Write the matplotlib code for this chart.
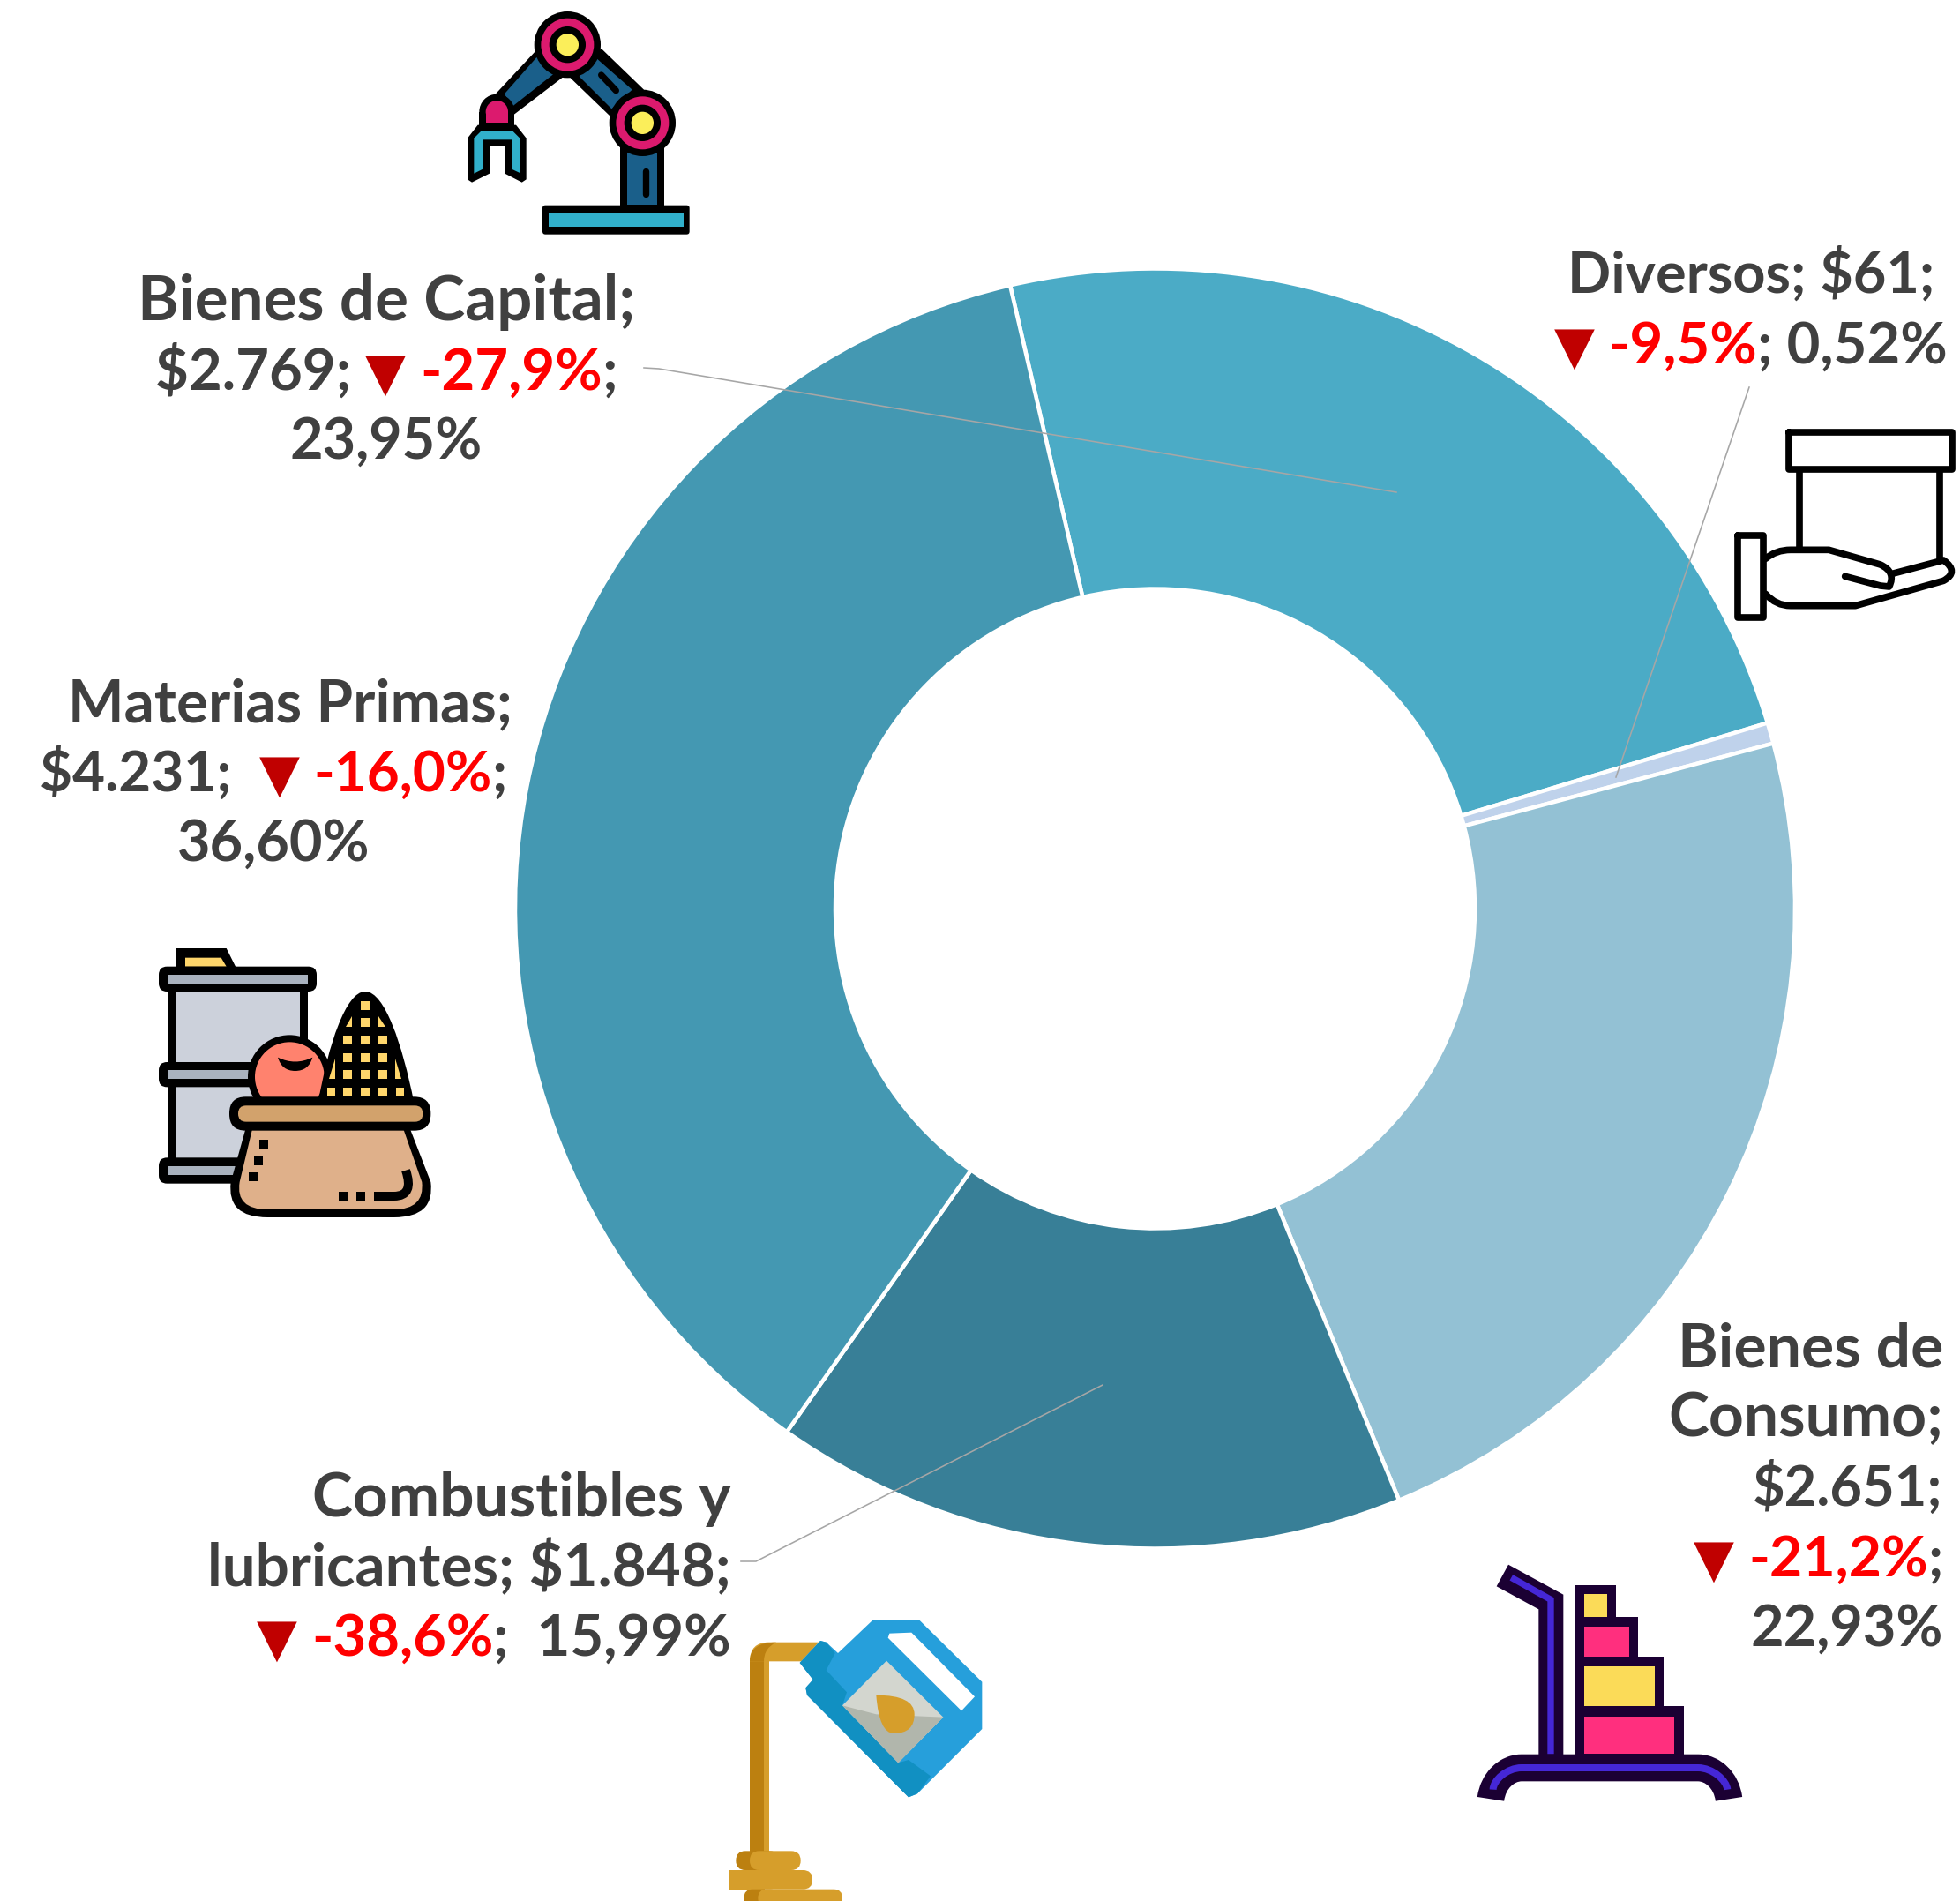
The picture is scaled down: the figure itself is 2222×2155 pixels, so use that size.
import matplotlib
matplotlib.use('Agg')  # run without UI window
import matplotlib.pyplot as plt
from matplotlib.patches import Circle, FancyBboxPatch, PathPatch, Polygon, Rectangle
from matplotlib.path import Path

W, H = 2222, 2155
PT = 0.72  # one pixel in points at dpi 100

# Data
categories = ['Bienes de Capital', 'Diversos', 'Bienes de Consumo', 'Combustibles y lubricantes', 'Materias Primas']
values = [2769, 61, 2651, 1848, 4231]
value_labels = ['$2.769', '$61', '$2.651', '$1.848', '$4.231']
changes = ['-27,9%', '-9,5%', '-21,2%', '-38,6%', '-16,0%']
shares = ['23,95%', '0,52%', '22,93%', '15,99%', '36,60%']
colors = ['#4BABC6', '#BFD2EB', '#93C1D4', '#387F97', '#4498B2']

GREY = '#404040'
RED = '#FF0000'
DARK_RED = '#C00000'

fig = plt.figure(figsize=(W / 100, H / 100), dpi=100, facecolor='white')

# Donut
pie_ax = fig.add_axes([0, 0, 1, 1])
pie_ax.set_xlim(0, W)
pie_ax.set_ylim(0, H)
pie_ax.axis('off')
pie_ax.pie(values, colors=colors, startangle=103.1, counterclock=False,
           center=(1309.5, H - 1030), radius=725.5, frame=True,
           wedgeprops=dict(width=363, edgecolor='white', linewidth=4.5 * PT))
pie_ax.set_xlim(0, W)
pie_ax.set_ylim(0, H)
pie_ax.axis('off')

# Overlay in image pixels, y going down
ax = fig.add_axes([0, 0, 1, 1])
ax.set_xlim(0, W)
ax.set_ylim(H, 0)
ax.axis('off')
ax.patch.set_alpha(0)

# Leader lines
for xs, ys in [([730, 747, 1583], [417, 418, 558]),
               ([1983, 1832], [439, 881]),
               ([840, 857, 1250], [1770, 1770, 1570])]:
    ax.plot(xs, ys, color='#A6A6A6', lw=1.6 * PT, zorder=3)

renderer = fig.canvas.get_renderer()
FONT = ['Lato', 'DejaVu Sans']
TRI_SIZE = 43


def run_width(s, size):
    probe = ax.text(0, 0, 'x' + s + 'x', fontsize=size, fontweight='bold', family=FONT)
    w1 = probe.get_window_extent(renderer).width
    probe.set_text('xx')
    w2 = probe.get_window_extent(renderer).width
    probe.remove()
    return w1 - w2


def text_line(x, y, runs, size, align='center'):
    # runs are (text, colour) pairs laid out one after the other
    sizes = [TRI_SIZE if r[0] == '▼' else size for r in runs]
    widths = [run_width(r[0], s) for r, s in zip(runs, sizes)]
    total = sum(widths)
    left = x - total / 2 if align == 'center' else x - total
    for (s, c), w, fs in zip(runs, widths, sizes):
        ax.text(left, y, s, color=c, fontsize=fs, fontweight='bold', family=FONT,
                ha='left', va='baseline', zorder=5)
        left += w


def change_runs(i, after):
    return [('▼', DARK_RED), (' ', GREY), (changes[i], RED), (after, GREY)]


# Bienes de Capital
text_line(438, 363, [(categories[0] + ';', GREY)], 51)
text_line(438, 442, [(value_labels[0] + '; ', GREY)] + change_runs(0, ';'), 47)
text_line(438, 520, [(shares[0], GREY)], 46.6)
# Diversos
text_line(1985, 332, [(categories[1] + '; ' + value_labels[1] + ';', GREY)], 46.6)
text_line(1985, 412, change_runs(1, '; ' + shares[1]), 47)
# Materias Primas
text_line(329, 818, [(categories[4] + ';', GREY)], 48.5)
text_line(310, 897, [(value_labels[4] + ';  ', GREY)] + change_runs(4, ';'), 46)
text_line(310, 976, [(shares[4], GREY)], 46.6)
# Combustibles y lubricantes
text_line(829, 1719, [('Combustibles y', GREY)], 50, align='right')
text_line(829, 1798, [('lubricantes; ' + value_labels[3] + ';', GREY)], 48.4, align='right')
text_line(829, 1877, change_runs(3, ';  ' + shares[3]), 47, align='right')
# Bienes de Consumo
text_line(2203, 1549, [('Bienes de', GREY)], 50, align='right')
text_line(2203, 1628, [('Consumo;', GREY)], 50, align='right')
text_line(2203, 1707, [(value_labels[2] + ';', GREY)], 45.5, align='right')
text_line(2203, 1787, change_runs(2, ';'), 46.4, align='right')
text_line(2203, 1866, [(shares[2], GREY)], 46.6, align='right')


# Icon helpers: coordinates are given in a 3x local grid
class Icon:
    def __init__(self, ox, oy):
        self.ox, self.oy = ox, oy
        self.z = 6

    def p(self, pts):
        return [(self.ox + a / 3, self.oy + b / 3) for a, b in pts]

    def poly(self, pts, color):
        self.z += 0.01
        ax.add_patch(Polygon(self.p(pts), closed=True, fc=color, ec='none', zorder=self.z))

    def rect(self, x0, y0, x1, y1, color, rounding=0):
        self.z += 0.01
        a, b = self.p([(x0, y0)])[0]
        w, h = (x1 - x0) / 3, (y1 - y0) / 3
        if rounding:
            r = rounding / 3
            ax.add_patch(FancyBboxPatch((a + r, b + r), w - 2 * r, h - 2 * r,
                                        boxstyle='round,pad=%f,rounding_size=%f' % (r, r),
                                        fc=color, ec='none', zorder=self.z))
        else:
            ax.add_patch(Rectangle((a, b), w, h, fc=color, ec='none', zorder=self.z))

    def circle(self, x, y, r, color):
        self.z += 0.01
        ax.add_patch(Circle(self.p([(x, y)])[0], r / 3, fc=color, ec='none', zorder=self.z))

    def line(self, pts, color, width, cap='round', join='round'):
        self.z += 0.01
        xy = self.p(pts)
        ax.plot([q[0] for q in xy], [q[1] for q in xy], color=color, lw=width / 3 * PT,
                solid_capstyle=cap, solid_joinstyle=join, zorder=self.z)

    def bezier(self, verts, codes, fc='none', ec='none', width=0, cap='butt'):
        self.z += 0.01
        patch = PathPatch(Path(self.p(verts), codes), fc=fc, ec=ec, lw=width / 3 * PT,
                          capstyle=cap, joinstyle='round', zorder=self.z)
        ax.add_patch(patch)
        return patch


def draw_robot():
    ic = Icon(500, 0)
    black, blue, pink, cyan, yellow = '#000000', '#1A5F8A', '#DC1A6E', '#31B0CB', '#FBEE5A'
    ic.rect(345, 698, 845, 797, black, 10)
    ic.rect(366, 722, 824, 772, cyan)
    ic.rect(608, 500, 760, 700, black)
    ic.rect(632, 510, 736, 697, blue)
    ic.line([(697, 582), (697, 660)], black, 22)
    ic.poly([(325, 170), (415, 262), (250, 388), (185, 320)], black)
    ic.poly([(325, 195), (385, 250), (245, 360), (215, 320)], blue)
    ic.poly([(545, 165), (690, 305), (575, 395), (440, 265)], black)
    ic.poly([(525, 195), (650, 305), (580, 370), (470, 260)], blue)
    ic.line([(545, 255), (595, 308)], black, 22)
    for cx, cy in [(430, 152), (685, 418)]:
        ic.circle(cx, cy, 113, black)
        ic.circle(cx, cy, 90, pink)
        ic.circle(cx, cy, 62, black)
        ic.circle(cx, cy, 38, yellow)
    ic.circle(190, 380, 60, black)
    ic.rect(130, 380, 250, 440, black)
    ic.circle(190, 380, 38, pink)
    ic.rect(152, 380, 228, 420, pink)
    ic.poly([(90, 470), (125, 425), (255, 425), (290, 470), (290, 610), (275, 620), (217, 590),
             (217, 495), (165, 495), (165, 590), (105, 620), (90, 610)], black)
    ic.poly([(112, 470), (135, 447), (245, 447), (268, 470), (268, 588), (240, 575), (240, 475),
             (142, 475), (142, 575), (112, 590)], cyan)


def draw_hand():
    ic = Icon(1720, 260)
    lw = 23
    ic.rect(925, 690, 1478, 815, 'white')
    ic.line([(925, 690), (1478, 690), (1478, 815), (925, 815), (925, 690)], 'black', lw)
    ic.line([(960, 815), (960, 1085)], 'black', lw, cap='butt')
    ic.line([(1437, 815), (1437, 1125)], 'black', lw, cap='butt')
    ic.line([(750, 1040), (838, 1040), (838, 1320), (750, 1320), (750, 1040)], 'black', lw)
    ic.bezier([(845, 1120), (880, 1090), (930, 1090), (1060, 1090), (1235, 1140),
               (1290, 1165), (1265, 1215), (1235, 1212), (1115, 1180)],
              [Path.MOVETO, Path.CURVE3, Path.CURVE3, Path.LINETO, Path.LINETO,
               Path.CURVE3, Path.CURVE3, Path.LINETO, Path.LINETO], ec='black', width=lw, cap='round')
    ic.bezier([(845, 1240), (880, 1280), (930, 1280), (1150, 1280), (1450, 1195),
               (1505, 1165), (1450, 1125), (1280, 1170)],
              [Path.MOVETO, Path.CURVE3, Path.CURVE3, Path.LINETO, Path.LINETO,
               Path.CURVE3, Path.CURVE3, Path.LINETO], ec='black', width=lw, cap='round')


def draw_basket():
    ic = Icon(160, 1050)
    black, rim, body, yellow = '#000000', '#A9B2BE', '#CCD1DB', '#FFD66B'
    ic.poly([(120, 75), (290, 75), (325, 145), (120, 145)], black)
    ic.poly([(150, 107), (272, 107), (290, 137), (150, 137)], yellow)
    ic.rect(92, 210, 568, 800, black)
    ic.rect(120, 222, 540, 470, body)
    ic.rect(120, 540, 540, 795, body)
    ic.rect(60, 137, 597, 222, black, 28)
    ic.rect(90, 165, 568, 195, rim)
    ic.rect(60, 462, 597, 547, black, 28)
    ic.rect(90, 490, 568, 520, rim)
    ic.rect(60, 787, 597, 875, black, 28)
    ic.rect(90, 815, 568, 845, rim)
    # apple
    ic.circle(505, 512, 142, black)
    ic.circle(505, 512, 118, '#FF826E')
    ic.bezier([(465, 446), (478, 492), (524, 492), (570, 492), (583, 446), (524, 475), (465, 446)],
              [Path.MOVETO, Path.CURVE3, Path.CURVE3, Path.CURVE3, Path.CURVE3, Path.CURVE3, Path.CURVE3],
              fc='black')
    # corn
    ic.bezier([(605, 600), (640, 400), (700, 225), (762, 225), (825, 225), (885, 400), (925, 600)],
              [Path.MOVETO, Path.CURVE4, Path.CURVE4, Path.CURVE4, Path.CURVE4, Path.CURVE4, Path.CURVE4],
              fc='black', ec='black', width=6)
    ic.rect(747, 255, 777, 285, yellow)
    for y in [328, 388, 447, 505, 565]:
        for x in [702, 762, 822]:
            if y == 328 and x != 762:
                continue
            ic.rect(x - 15, y - 15, x + 15, y + 15, yellow)
    ic.poly([(696, 343), (717, 343), (717, 305)], yellow)
    ic.poly([(807, 305), (807, 343), (830, 343)], yellow)
    ic.poly([(640, 520), (660, 520), (660, 450)], yellow)
    ic.poly([(865, 450), (865, 520), (885, 520)], yellow)
    ic.rect(632, 550, 660, 580, yellow)
    ic.rect(866, 550, 894, 580, yellow)
    # bag
    ic.bezier([(355, 690), (915, 690), (985, 870), (1000, 990), (860, 990), (430, 990),
               (290, 990), (305, 870), (355, 690)],
              [Path.MOVETO, Path.LINETO, Path.LINETO, Path.CURVE3, Path.CURVE3, Path.LINETO,
               Path.CURVE3, Path.CURVE3, Path.LINETO], fc='black')
    ic.bezier([(378, 690), (892, 690), (955, 870), (965, 963), (860, 963), (430, 963),
               (320, 963), (335, 870), (378, 690)],
              [Path.MOVETO, Path.LINETO, Path.LINETO, Path.CURVE3, Path.CURVE3, Path.LINETO,
               Path.CURVE3, Path.CURVE3, Path.LINETO], fc='#DFB08A')
    ic.rect(300, 580, 985, 695, black, 56)
    ic.rect(330, 610, 958, 665, '#D2A26C', 27)
    for x, y in [(418, 742), (398, 797), (380, 853)]:
        ic.rect(x - 15, y - 15, x + 15, y + 15, black)
    ic.rect(672, 903, 702, 933, black)
    ic.rect(732, 903, 762, 933, black)
    ic.bezier([(792, 918), (860, 918), (930, 918), (900, 830)],
              [Path.MOVETO, Path.LINETO, Path.CURVE3, Path.CURVE3], ec='black', width=30)


def draw_oil():
    ic = Icon(800, 1800)
    gold, dark = '#D69E2B', '#BC8010'
    ic.rect(150, 240, 215, 900, gold)
    ic.rect(150, 240, 198, 900, dark)
    ic.bezier([(150, 250), (150, 185), (215, 185), (385, 185), (325, 250), (215, 250), (150, 250)],
              [Path.MOVETO, Path.CURVE3, Path.CURVE3, Path.LINETO, Path.LINETO, Path.LINETO, Path.CLOSEPOLY], fc=gold)
    ic.bezier([(150, 250), (150, 185), (240, 185), (198, 205), (198, 250), (150, 250)],
              [Path.MOVETO, Path.CURVE3, Path.CURVE3, Path.CURVE3, Path.CURVE3, Path.CLOSEPOLY], fc=dark)
    # coil at the bottom
    ic.rect(103, 895, 250, 960, dark, 32)
    ic.rect(150, 895, 323, 960, gold, 32)
    ic.rect(80, 960, 200, 1025, gold)
    ic.rect(120, 960, 363, 1025, gold, 32)
    ic.rect(130, 1025, 250, 1085, dark, 30)
    ic.rect(178, 1025, 465, 1085, gold, 30)
    # jug
    ic.poly([(570, 108), (725, 108), (940, 320), (940, 480), (720, 700), (690, 712), (345, 365), (340, 340),
             (365, 312), (320, 255), (390, 180), (410, 185), (450, 222)], '#269FDB')
    ic.poly([(320, 255), (390, 180), (410, 185), (440, 222), (410, 280), (480, 355), (465, 400),
             (655, 595), (690, 585), (765, 640), (720, 700), (690, 712), (345, 365), (340, 340), (365, 312)], '#1190C2')
    ic.poly([(625, 155), (700, 152), (915, 370), (870, 418), (620, 170)], 'white')
    ic.poly([(615, 248), (808, 440), (655, 595), (465, 400)], '#D3D6CF')
    ic.poly([(465, 400), (580, 430), (808, 440), (655, 595)], '#B1B6AC')
    ic.bezier([(580, 365), (710, 365), (710, 430), (710, 495), (640, 495), (590, 495), (580, 365)],
              [Path.MOVETO, Path.CURVE3, Path.CURVE3, Path.CURVE3, Path.CURVE3, Path.CURVE3, Path.CURVE3], fc=gold)


def draw_trolley():
    ic = Icon(1650, 1750)
    dark, blue, pink, yellow = '#1B0033', '#4527D6', '#FF2F7E', '#FBDB58'
    ic.line([(160, 108), (325, 198), (325, 730)], dark, 84, cap='butt', join='miter')
    ic.line([(190, 115), (324, 190), (324, 715)], blue, 22, cap='butt', join='miter')
    ic.poly([(405, 140), (545, 140), (545, 250), (622, 250), (622, 385), (708, 385), (708, 552),
             (778, 552), (778, 730), (405, 730)], dark)
    ic.rect(438, 172, 515, 248, yellow)
    ic.rect(438, 283, 590, 383, pink)
    ic.rect(438, 418, 677, 553, yellow)
    ic.rect(438, 588, 745, 713, pink)
    codes = [Path.MOVETO, Path.CURVE4, Path.CURVE4, Path.CURVE4, Path.LINETO, Path.CURVE4, Path.CURVE4, Path.CURVE4]
    verts = [(120, 868), (128, 805), (175, 762), (225, 762), (825, 762), (875, 762), (922, 805), (930, 868)]
    ic.bezier(verts, codes, ec=dark, width=92)
    ic.bezier([(128, 836)] + verts[1:-1] + [(925, 836)], codes, ec=blue, width=24)


draw_robot()
draw_hand()
draw_basket()
draw_oil()
draw_trolley()

fig.savefig('out.png', dpi=100, facecolor='white')
